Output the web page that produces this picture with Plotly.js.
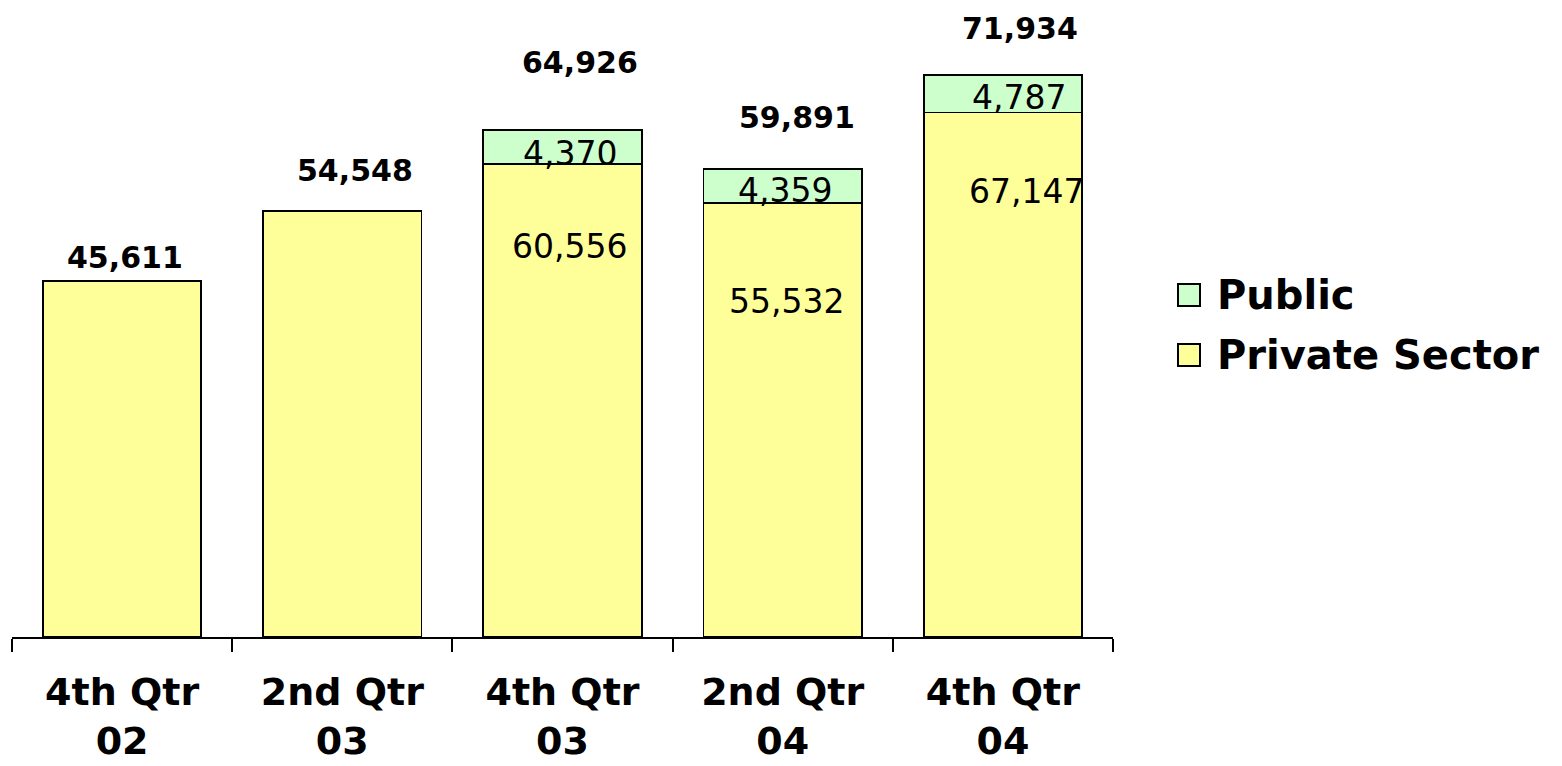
<!DOCTYPE html>
<html>
<head>
<meta charset="utf-8">
<script src="https://cdn.plot.ly/plotly-3.0.1.min.js"></script>
<style>html,body{margin:0;padding:0;background:#fff;}#chart{width:1562px;height:766px;}</style>
</head>
<body>
<div id="chart"></div>
<script>
// ---- data ----
var categories = ["4th Qtr<br>02", "2nd Qtr<br>03", "4th Qtr<br>03", "2nd Qtr<br>04", "4th Qtr<br>04"];
var privateSector = [45611, 54548, 60556, 55532, 67147];
var publicSector = [null, null, 4370, 4359, 4787];
var seriesNames = ["Public", "Private Sector"];

// ---- styling / layout constants ----
var W = 1562, H = 766;
var plotL = 12, plotR = 1113, plotT = 12, plotB = 637;
var yMax = 80000;
var colPrivate = "#FFFF99", colPublic = "#CCFFCC";
var FONT = "DejaVu Sans, Arial, sans-serif";

function fmt(v) { return v.toLocaleString("en-US"); }
function px(x) { return (x - plotL) / (plotR - plotL); }
function py(y) { return (plotB - y) / (plotB - plotT); }

var totals = privateSector.map(function (v, i) { return v + (publicSector[i] || 0); });

var traces = [
  {
    type: "bar", name: seriesNames[1], x: categories, y: privateSector,
    marker: { color: colPrivate, line: { color: "#000", width: 1.8 } },
    hoverinfo: "skip"
  },
  {
    type: "bar", name: seriesNames[0], x: categories, y: publicSector,
    marker: { color: colPublic, line: { color: "#000", width: 1.8 } },
    hoverinfo: "skip"
  }
];

// label offsets (pixels) - layout only
var totalShift = [[3, 23], [13, 40], [17, 67], [14, 52], [17, 47]];
var privShift = [null, null, [7, -83], [4, -98], [24, -79]];
var pubShift = [null, null, [7, -24], [2, -21], [16, -22]];

var annotations = [];
categories.forEach(function (c, i) {
  annotations.push({
    x: c, y: totals[i], xref: "x", yref: "y", text: fmt(totals[i]),
    showarrow: false, xanchor: "center", yanchor: "middle",
    xshift: totalShift[i][0], yshift: totalShift[i][1],
    font: { family: FONT, size: 30, color: "#000", weight: "bold" }
  });
  if (publicSector[i] !== null) {
    annotations.push({
      x: c, y: privateSector[i], xref: "x", yref: "y", text: fmt(privateSector[i]),
      showarrow: false, xanchor: "center", yanchor: "middle",
      xshift: privShift[i][0], yshift: privShift[i][1],
      font: { family: FONT, size: 33, color: "#000" }
    });
    annotations.push({
      x: c, y: totals[i], xref: "x", yref: "y", text: fmt(publicSector[i]),
      showarrow: false, xanchor: "center", yanchor: "middle",
      xshift: pubShift[i][0], yshift: pubShift[i][1],
      font: { family: FONT, size: 33, color: "#000" }
    });
  }
});

// custom legend
var legendItems = [
  { name: seriesNames[0], color: colPublic, top: 284 },
  { name: seriesNames[1], color: colPrivate, top: 344 }
];
var shapes = [];
legendItems.forEach(function (it) {
  shapes.push({
    type: "rect", xref: "paper", yref: "paper",
    x0: px(1178), x1: px(1200), y0: py(it.top + 22), y1: py(it.top),
    fillcolor: it.color, line: { color: "#000", width: 2 }
  });
  annotations.push({
    xref: "paper", yref: "paper", x: px(1215), y: py(it.top + 11),
    text: it.name, showarrow: false, xanchor: "left", yanchor: "middle",
    font: { family: FONT, size: 40, color: "#000", weight: "bold" }
  });
});

var layout = {
  width: W, height: H,
  margin: { l: plotL, r: W - plotR, t: plotT, b: H - plotB, pad: 0 },
  paper_bgcolor: "#fff", plot_bgcolor: "#fff",
  barmode: "stack", bargap: 0.28,
  showlegend: false,
  xaxis: {
    type: "category", range: [-0.5, categories.length - 0.5],
    showline: true, linecolor: "#000", linewidth: 2,
    ticks: "outside", tickson: "boundaries", ticklen: 13, tickwidth: 2, tickcolor: "#000",
    ticklabelstandoff: 20, automargin: false,
    tickfont: { family: FONT, size: 38, color: "#000", weight: "bold" },
    showgrid: false, zeroline: false, fixedrange: true
  },
  yaxis: {
    range: [0, yMax], visible: false, showgrid: false, zeroline: false, fixedrange: true
  },
  annotations: annotations,
  shapes: shapes
};

Plotly.newPlot("chart", traces, layout, { displayModeBar: false, staticPlot: true });
</script>
</body>
</html>
